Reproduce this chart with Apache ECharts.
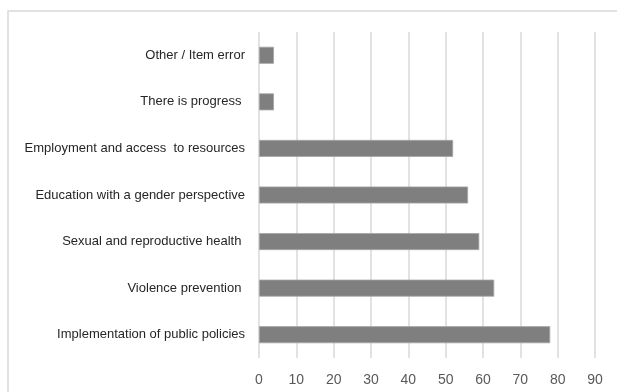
<!DOCTYPE html>
<html>
<head>
<meta charset="utf-8">
<script src="https://cdn.jsdelivr.net/npm/echarts@6/dist/echarts.min.js"></script>
<style>
html,body{margin:0;padding:0;background:#fff;}
#chart{width:617px;height:392px;}
</style>
</head>
<body>
<div id="chart"></div>
<script>
var categories = [
  "Implementation of public policies",
  "Violence prevention ",
  "Sexual and reproductive health ",
  "Education with a gender perspective",
  "Employment and access  to resources",
  "There is progress ",
  "Other / Item error"
];
var values = [78, 63, 59, 56, 52, 4, 4];
var xTicks = [0, 10, 20, 30, 40, 50, 60, 70, 80, 90];

var chart = echarts.init(document.getElementById('chart'), null, {renderer: 'canvas'});
chart.setOption({
  animation: false,
  backgroundColor: '#ffffff',
  graphic: [{
    type: 'rect',
    shape: {x: 8, y: 11, width: 700, height: 500},
    style: {fill: 'none', stroke: '#d9d9d9', lineWidth: 1.5},
    silent: true,
    z: -10
  }],
  grid: {left: 259, right: 22, top: 32, bottom: 34, containLabel: false},
  xAxis: {
    type: 'value',
    min: xTicks[0],
    max: xTicks[xTicks.length - 1],
    interval: 10,
    axisLine: {show: false},
    axisTick: {show: false},
    splitLine: {show: true, lineStyle: {color: '#d9d9d9', width: 1.5}},
    axisLabel: {
      color: '#595959',
      fontFamily: 'Liberation Sans Narrow, Liberation Sans, sans-serif',
      fontSize: 14,
      margin: 15
    }
  },
  yAxis: {
    type: 'category',
    data: categories,
    axisLine: {show: false},
    axisTick: {show: false},
    splitLine: {show: false},
    axisLabel: {
      color: '#262626',
      fontFamily: 'Liberation Sans Narrow, Liberation Sans, sans-serif',
      fontSize: 13,
      margin: 14
    }
  },
  series: [{
    type: 'bar',
    data: values,
    barWidth: 17,
    itemStyle: {color: '#7f7f7f', borderColor: '#a6a6a6', borderWidth: 0.8}
  }]
});
</script>
</body>
</html>
